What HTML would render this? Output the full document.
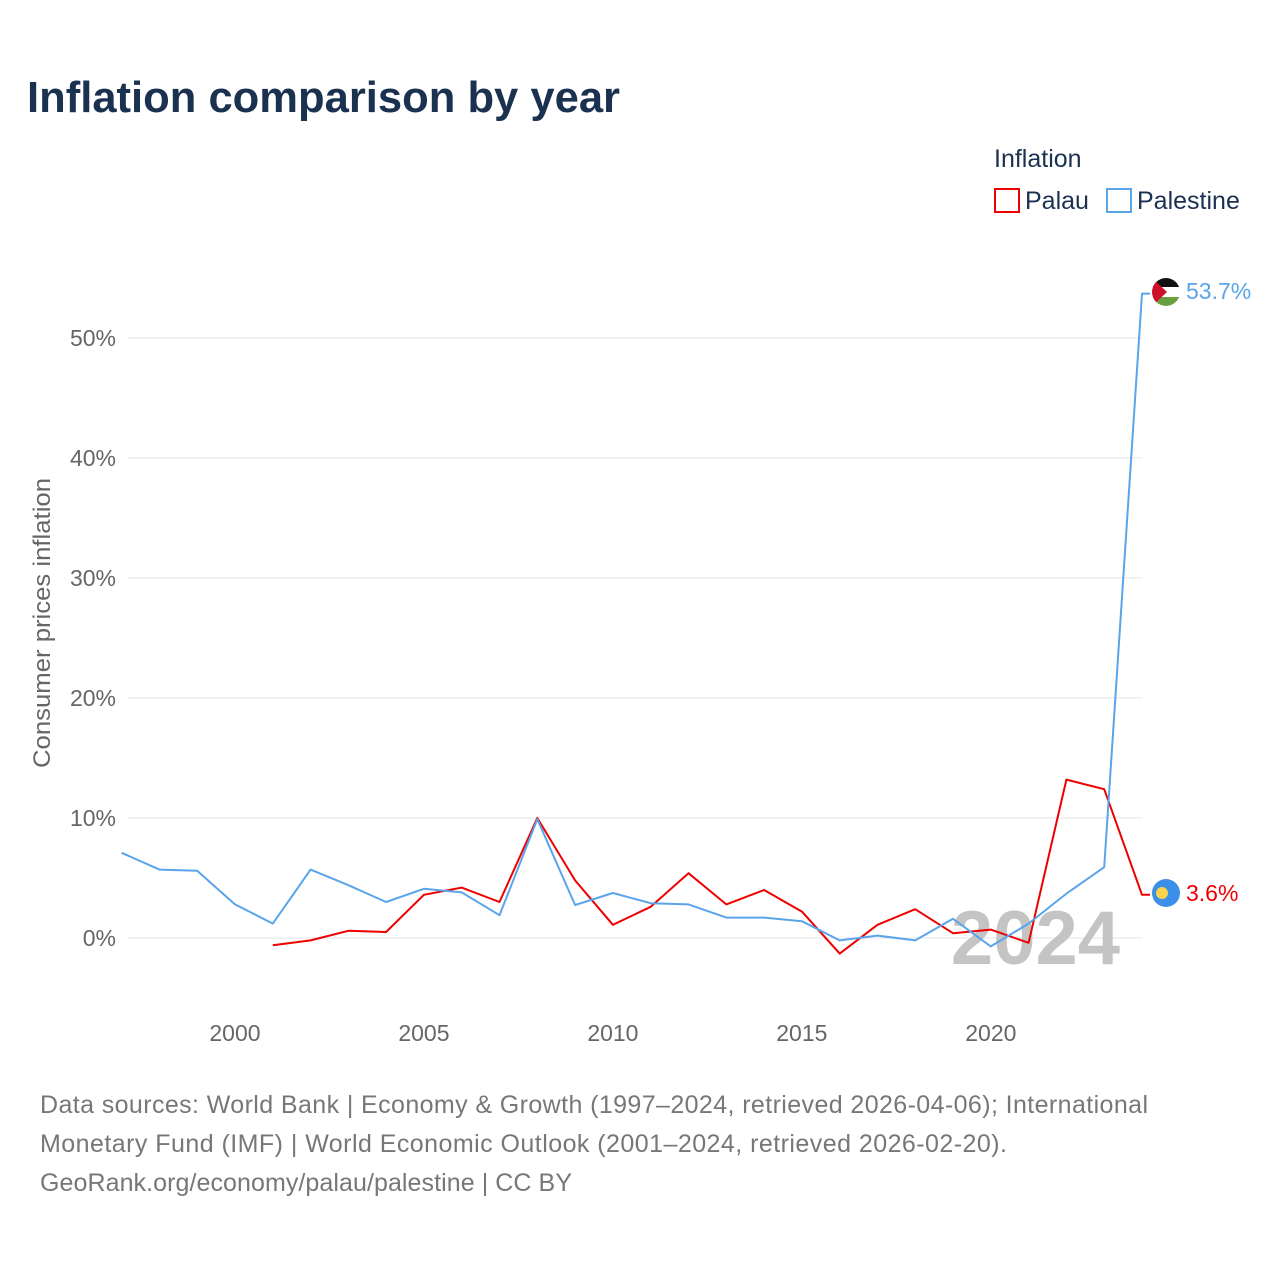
<!DOCTYPE html>
<html><head><meta charset="utf-8"><style>
body{margin:0;background:#fff;width:1280px;height:1280px;overflow:hidden;font-family:"Liberation Sans",sans-serif}
</style></head><body>
<svg id="chart" width="1280" height="1280" xmlns="http://www.w3.org/2000/svg">
<defs><clipPath id="fc"><circle cx="1166" cy="292" r="14"/></clipPath></defs>
<text x="27" y="112" font-size="44" font-weight="bold" fill="#1b3150" textLength="593" lengthAdjust="spacingAndGlyphs">Inflation comparison by year</text>
<text x="994" y="167" font-size="25" fill="#1b3150">Inflation</text>
<g><rect x="995" y="189" width="24" height="23" fill="none" stroke="#e00" stroke-width="2"/><text x="1025" y="209" font-size="25" fill="#1b3150">Palau</text></g>
<g><rect x="1107" y="189" width="24" height="23" fill="none" stroke="#5aa5ea" stroke-width="2"/><text x="1137" y="209" font-size="25" fill="#1b3150">Palestine</text></g>
<text transform="translate(50,623) rotate(-90)" text-anchor="middle" font-size="24" fill="#666" textLength="290" lengthAdjust="spacingAndGlyphs">Consumer prices inflation</text>
<g id="grid"></g><g id="yt"></g><g id="xt"></g>
<text x="1120" y="964" text-anchor="end" font-size="76" font-weight="bold" fill="#c4c4c4">2024</text>
<g id="series"></g>
<g clip-path="url(#fc)">
<rect x="1150" y="276" width="32" height="11" fill="#111"/><rect x="1150" y="287" width="32" height="10" fill="#fff"/><rect x="1150" y="297" width="32" height="11" fill="#6a9f3f"/><polygon points="1150,276 1167,292 1150,308" fill="#d0102a"/></g>
<g><circle cx="1166" cy="893" r="14" fill="#3b8fe8"/><circle cx="1162" cy="893" r="6" fill="#f9d44a"/></g>
<text x="1186" y="299" font-size="23" fill="#5aa5ea">53.7%</text>
<text x="1186" y="901" font-size="23" fill="#e00">3.6%</text>
<text font-size="25" fill="#777" lengthAdjust="spacingAndGlyphs"><tspan x="40" y="1113" textLength="1108">Data sources: World Bank | Economy &amp; Growth (1997–2024, retrieved 2026-04-06); International</tspan><tspan x="40" y="1152" textLength="967">Monetary Fund (IMF) | World Economic Outlook (2001–2024, retrieved 2026-02-20).</tspan><tspan x="40" y="1191" textLength="532">GeoRank.org/economy/palau/palestine | CC BY</tspan></text>
</svg>
<script>
const palestineYears=[1997,1998,1999,2000,2001,2002,2003,2004,2005,2006,2007,2008,2009,2010,2011,2012,2013,2014,2015,2016,2017,2018,2019,2020,2021,2022,2023,2024];
const palestineValues=[7.1,5.7,5.6,2.8,1.2,5.7,4.4,3.0,4.1,3.8,1.9,9.9,2.75,3.75,2.9,2.8,1.7,1.7,1.4,-0.2,0.2,-0.2,1.6,-0.7,1.2,3.7,5.9,53.7];
const palauYears=[2001,2002,2003,2004,2005,2006,2007,2008,2009,2010,2011,2012,2013,2014,2015,2016,2017,2018,2019,2020,2021,2022,2023,2024];
const palauValues=[-0.6,-0.2,0.6,0.5,3.6,4.2,3.0,10.0,4.8,1.1,2.6,5.4,2.8,4.0,2.2,-1.3,1.1,2.4,0.4,0.7,-0.4,13.2,12.4,3.6];
const yTicks=[0,10,20,30,40,50];
const xTicks=[2000,2005,2010,2015,2020];
const NS="http://www.w3.org/2000/svg";
const x=v=>121.6+(v-1997)*(1142-121.6)/27;
const y=v=>938-v*12;
function mk(tag,attrs,parent,txt){const e=document.createElementNS(NS,tag);for(const k in attrs)e.setAttribute(k,attrs[k]);if(txt!==undefined)e.textContent=txt;document.getElementById(parent).appendChild(e);return e;}
yTicks.forEach(t=>{
 const l=mk('line',{x1:128,x2:1142,y1:y(t),y2:y(t),stroke:'#e6e6e6','stroke-width':1},'grid');
 
 
 const tx=mk('text',{x:116,y:y(t)+8,'text-anchor':'end','font-size':23,fill:'#666'},'yt',t+'%');
 
 
});
xTicks.forEach(t=>{
 const tx=mk('text',{x:x(t),y:1041,'text-anchor':'middle','font-size':23,fill:'#666'},'xt',String(t));
 
 
});
function line(ys,vs,color,name){
 let d=ys.map((yr,i)=>(i?'L':'M')+x(yr).toFixed(1)+','+y(vs[i]).toFixed(1)).join(' ');
 d+=' L'+(x(ys[ys.length-1])+8).toFixed(1)+','+y(vs[vs.length-1]).toFixed(1);
 const p=mk('path',{d:d,fill:'none',stroke:color,'stroke-width':2,'stroke-linejoin':'round'},'series');
 
 
}
line(palauYears,palauValues,'#e00','palau-line');
line(palestineYears,palestineValues,'#5aa5ea','palestine-line');
</script>
</body></html>
